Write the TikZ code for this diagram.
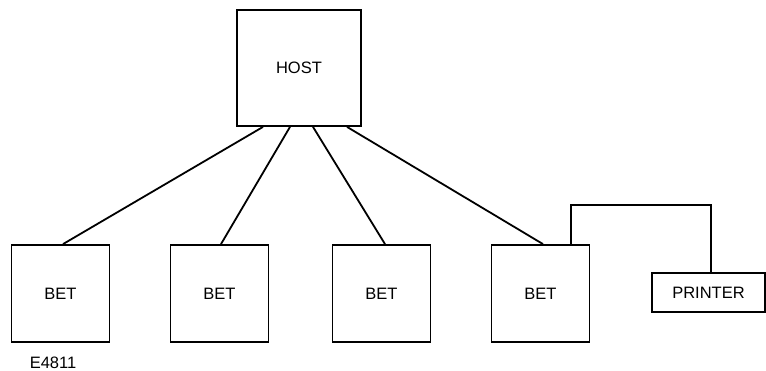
\documentclass[tikz,border=0pt]{standalone}
\usepackage{fontspec}
\setmainfont{Liberation Sans}
\begin{document}
\begin{tikzpicture}[x=1pt, y=1pt, line width=1.8pt,
    unit/.style={draw, minimum width=98pt, minimum height=97pt, inner sep=0pt,
        font=\fontsize{16.5}{19}\selectfont},
    lbl/.style={font=\fontsize{16.5}{19}\selectfont}]
    \useasboundingbox (0, 0) rectangle (766, 371);

    \node[unit, minimum width=124pt, minimum height=116pt] (host) at (299, 303) {HOST};
    \node[unit] (bet1) at (60.5, 77.5) {BET};
    \node[unit] (bet2) at (219.5, 77.5) {BET};
    \node[unit] (bet3) at (381.5, 77.5) {BET};
    \node[unit] (bet4) at (540.5, 77.5) {BET};
    \node[unit, minimum width=113pt, minimum height=39pt] (printer) at (708.5, 78.5) {PRINTER};

    \draw ([xshift=-36pt]host.south) -- ([xshift=2.5pt]bet1.north);
    \draw ([xshift=-9pt]host.south) -- ([xshift=1.5pt]bet2.north);
    \draw ([xshift=14pt]host.south) -- ([xshift=3.5pt]bet3.north);
    \draw ([xshift=48pt]host.south) -- ([xshift=2.5pt]bet4.north);
    \draw ([xshift=30.5pt]bet4.north) -- ++(0, 39) -| ([xshift=2.5pt]printer.north);

    \node[lbl] (fig) at (53, 8) {E4811};
\end{tikzpicture}
\end{document}
